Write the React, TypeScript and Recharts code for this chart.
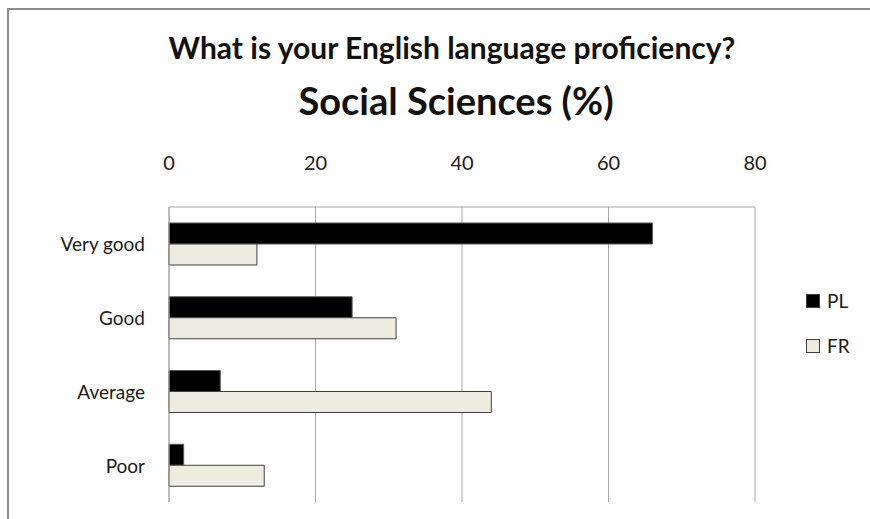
import { Bar, BarChart, CartesianGrid, XAxis, YAxis } from "recharts";

const categories = ["Very good", "Good", "Average", "Poor"];
const plValues = [66, 25, 7, 2];
const frValues = [12, 31, 44, 13];
const xTicks = [0, 20, 40, 60, 80];

const seriesNames = { pl: "PL", fr: "FR" };

const data = categories.map((name, i) => ({
  name,
  pl: plValues[i],
  fr: frValues[i],
}));

const CHART_WIDTH = 861;
const CHART_HEIGHT = 509;
const PLOT_LEFT = 160;
const PLOT_TOP = 197;
const PLOT_RIGHT = 746;
const PLOT_BOTTOM = 492;
const X_AXIS_HEIGHT = 50;

const GRID_COLOR = "#a6a6a6";
const FR_FILL = "#eeece1";
const FONT = "Lato, 'Open Sans', sans-serif";

function TopTick({ x, payload }: any) {
  return (
    <text
      x={x}
      y={PLOT_TOP - 37}
      textAnchor="middle"
      fontFamily={FONT}
      fontSize={20}
      fill="#1a1a1a"
    >
      {payload.value}
    </text>
  );
}

function CategoryTick({ y, payload }: any) {
  return (
    <text
      x={PLOT_LEFT - 24}
      y={y}
      textAnchor="end"
      dominantBaseline="central"
      fontFamily={FONT}
      fontSize={19}
      fill="#1a1a1a"
    >
      {payload.value}
    </text>
  );
}

function LegendItem({ top, label, fill }: { top: number; label: string; fill: string }) {
  return (
    <div
      style={{
        position: "absolute",
        left: 797,
        top,
        display: "flex",
        alignItems: "center",
        fontFamily: FONT,
        fontSize: 19,
        color: "#1a1a1a",
      }}
    >
      <span
        style={{
          display: "inline-block",
          width: 12,
          height: 12,
          background: fill,
          border: "1px solid #404040",
          marginRight: 7,
        }}
      />
      {label}
    </div>
  );
}

export default function App() {
  return (
    <div
      style={{
        position: "fixed",
        left: 7,
        top: 8,
        width: CHART_WIDTH,
        height: CHART_HEIGHT,
        borderTop: "2px solid #8c8c8c",
        borderLeft: "2px solid #8c8c8c",
        background: "#fff",
        overflow: "hidden",
      }}
    >
      <div
        style={{
          position: "absolute",
          left: 0,
          width: 886,
          top: 19,
          textAlign: "center",
          fontFamily: FONT,
          fontWeight: 700,
          fontSize: 30,
          lineHeight: "36px",
          color: "#111",
          whiteSpace: "nowrap",
        }}
      >
        What is your English language proficiency?
      </div>
      <div
        style={{
          position: "absolute",
          left: 0,
          width: 894,
          top: 67,
          textAlign: "center",
          fontFamily: FONT,
          fontWeight: 700,
          fontSize: 38,
          lineHeight: "46px",
          color: "#111",
          whiteSpace: "nowrap",
        }}
      >
        Social Sciences (%)
      </div>

      <BarChart
        width={CHART_WIDTH}
        height={CHART_HEIGHT}
        data={data}
        layout="vertical"
        barGap={0}
        barSize={21}
        margin={{
          top: PLOT_TOP - X_AXIS_HEIGHT,
          right: CHART_WIDTH - PLOT_RIGHT,
          bottom: CHART_HEIGHT - PLOT_BOTTOM,
          left: 0,
        }}
      >
        <CartesianGrid horizontal={false} stroke={GRID_COLOR} />
        <XAxis
          type="number"
          orientation="top"
          domain={[0, 80]}
          ticks={xTicks}
          height={X_AXIS_HEIGHT}
          axisLine={{ stroke: GRID_COLOR }}
          tickLine={false}
          tick={<TopTick />}
        />
        <YAxis
          type="category"
          dataKey="name"
          width={PLOT_LEFT}
          axisLine={{ stroke: GRID_COLOR }}
          tickLine={false}
          tick={<CategoryTick />}
        />
        <Bar
          dataKey="pl"
          name={seriesNames.pl}
          fill="#000"
          stroke="#595959"
          strokeWidth={1}
          isAnimationActive={false}
        />
        <Bar
          dataKey="fr"
          name={seriesNames.fr}
          fill={FR_FILL}
          stroke="#404040"
          strokeWidth={1}
          isAnimationActive={false}
        />
      </BarChart>

      <LegendItem top={279} label={seriesNames.pl} fill="#000" />
      <LegendItem top={324} label={seriesNames.fr} fill={FR_FILL} />
    </div>
  );
}
